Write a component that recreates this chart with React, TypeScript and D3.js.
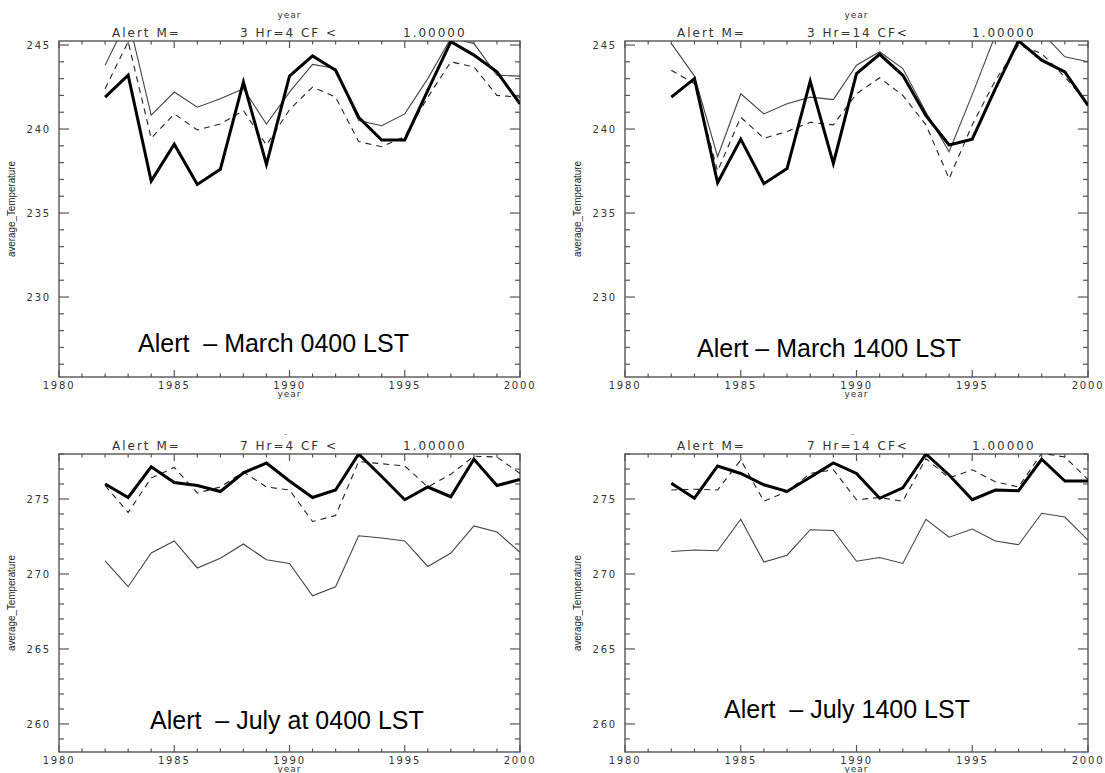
import React, { useRef, useEffect } from 'react';
import * as d3 from 'd3';

const years = d3.range(1982, 2001);

// March 0400 LST
const mar04Thick = [241.9, 243.2, 236.9, 239.1, 236.7, 237.6, 242.8, 237.9, 243.15, 244.35, 243.5, 240.7, 239.35, 239.35, 242.3, 245.2, 244.4, 243.4, 241.5];
const mar04Thin = [243.8, 246.6, 240.83, 242.2, 241.3, 241.8, 242.4, 240.3, 242.2, 243.85, 243.6, 240.5, 240.2, 240.9, 243.0, 245.4, 245.1, 243.2, 243.15];
const mar04Dash = [242.4, 245.2, 239.45, 240.9, 239.95, 240.3, 241.1, 239.05, 241.15, 242.5, 241.9, 239.25, 238.95, 239.55, 241.9, 244.0, 243.7, 242.0, 241.9];

// March 1400 LST
const mar14Thick = [241.9, 243.0, 236.8, 239.4, 236.75, 237.65, 242.85, 237.95, 243.3, 244.45, 243.2, 240.8, 239.05, 239.4, 242.4, 245.25, 244.1, 243.4, 241.4];
const mar14Thin = [245.1, 243.15, 238.35, 242.1, 240.9, 241.5, 241.9, 241.75, 243.8, 244.6, 243.6, 241.0, 238.65, 242.05, 245.6, 246.3, 245.75, 244.3, 244.0];
const mar14Dash = [243.5, 242.7, 237.5, 240.7, 239.45, 239.85, 240.4, 240.25, 242.1, 243.05, 242.0, 240.25, 237.05, 240.25, 242.9, 245.0, 244.5, 243.1, 241.5];

// July 0400 LST
const jul04Thick = [276.0, 275.1, 277.15, 276.1, 275.9, 275.5, 276.75, 277.4, 276.2, 275.1, 275.6, 278.0, 276.5, 274.95, 275.8, 275.15, 277.65, 275.9, 276.3];
const jul04Thin = [270.87, 269.15, 271.4, 272.2, 270.4, 271.05, 272.0, 270.95, 270.7, 268.55, 269.15, 272.55, 272.4, 272.2, 270.5, 271.4, 273.2, 272.8, 271.45];
const jul04Dash = [275.9, 274.1, 276.4, 277.1, 275.4, 275.8, 276.8, 275.8, 275.6, 273.5, 273.9, 277.5, 277.35, 277.2, 275.8, 276.65, 277.85, 277.8, 276.7];

// July 1400 LST
const jul14Thick = [276.05, 275.05, 277.2, 276.7, 275.95, 275.5, 276.45, 277.4, 276.7, 275.05, 275.75, 278.0, 276.6, 274.95, 275.6, 275.55, 277.65, 276.2, 276.2];
const jul14Thin = [271.5, 271.6, 271.55, 273.65, 270.8, 271.25, 272.95, 272.9, 270.85, 271.1, 270.7, 273.65, 272.45, 273.0, 272.2, 271.95, 274.05, 273.8, 272.25];
const jul14Dash = [275.6, 275.65, 275.6, 277.6, 274.85, 275.5, 276.7, 276.95, 274.95, 275.1, 274.85, 277.7, 276.4, 276.95, 276.15, 275.8, 278.05, 277.8, 276.3];

const titleLeft = ['Alert M=', '3 Hr=4 CF <', '1.00000'];
const titleRight = ['Alert M=', '3 Hr=14 CF<', '1.00000'];
const titleLeftJul = ['Alert M=', '7 Hr=4 CF <', '1.00000'];
const titleRightJul = ['Alert M=', '7 Hr=14 CF<', '1.00000'];
const captions = ['Alert  – March 0400 LST', 'Alert – March 1400 LST', 'Alert  – July at 0400 LST', 'Alert  – July 1400 LST'];

const marchTicks = [230, 235, 240, 245];
const julyTicks = [260, 265, 270, 275];
const yearTicks = [1980, 1985, 1990, 1995, 2000];

const panels = [
  { id: 'p1', x0: 59, x1: 520, y0: 41, y1: 377, dom: [225.24, 245.24], ticks: marchTicks, thick: mar04Thick, thin: mar04Thin, dash: mar04Dash, title: titleLeft, titleX: [112, 240, 403], titleY: 37, cap: captions[0], capX: 138, capY: 352, topYear: true },
  { id: 'p2', x0: 625, x1: 1088, y0: 41, y1: 377, dom: [225.24, 245.24], ticks: marchTicks, thick: mar14Thick, thin: mar14Thin, dash: mar14Dash, title: titleRight, titleX: [677, 807, 972], titleY: 37, cap: captions[1], capX: 697, capY: 357, topYear: true },
  { id: 'p3', x0: 59, x1: 520, y0: 454, y1: 752, dom: [258.13, 278.0], ticks: julyTicks, thick: jul04Thick, thin: jul04Thin, dash: jul04Dash, title: titleLeftJul, titleX: [112, 240, 403], titleY: 450, cap: captions[2], capX: 150, capY: 729, topYear: false },
  { id: 'p4', x0: 625, x1: 1088, y0: 454, y1: 752, dom: [258.13, 278.0], ticks: julyTicks, thick: jul14Thick, thin: jul14Thin, dash: jul14Dash, title: titleRightJul, titleX: [677, 807, 972], titleY: 450, cap: captions[3], capX: 724, capY: 718, topYear: false },
];

const App = () => {
  const svgRef = useRef(null);

  useEffect(() => {
    const svg = d3.select(svgRef.current);
    svg.selectAll('*').remove();
    const tickFont = 'DejaVu Sans, sans-serif';
    const axisColor = '#555';

    panels.forEach(p => {
      const x = d3.scaleLinear().domain([1980, 2000]).range([p.x0, p.x1]);
      const y = d3.scaleLinear().domain(p.dom).range([p.y1, p.y0]);
      const g = svg.append('g');

      g.append('clipPath').attr('id', 'clip-' + p.id)
        .append('rect')
        .attr('x', p.x0).attr('y', p.y0)
        .attr('width', p.x1 - p.x0).attr('height', p.y1 - p.y0);

      // frame
      g.append('rect')
        .attr('x', p.x0).attr('y', p.y0)
        .attr('width', p.x1 - p.x0).attr('height', p.y1 - p.y0)
        .attr('fill', 'none').attr('stroke', axisColor).attr('stroke-width', 1.4);

      // x ticks, inward on top and bottom
      d3.range(1980, 2001).forEach(yr => {
        const len = yr % 5 === 0 ? 7 : 3.5;
        const xx = x(yr);
        g.append('line').attr('x1', xx).attr('x2', xx).attr('y1', p.y1).attr('y2', p.y1 - len)
          .attr('stroke', axisColor).attr('stroke-width', 1.2);
        g.append('line').attr('x1', xx).attr('x2', xx).attr('y1', p.y0).attr('y2', p.y0 + len)
          .attr('stroke', axisColor).attr('stroke-width', 1.2);
      });

      // y ticks, inward on left and right
      d3.range(Math.ceil(p.dom[0]), Math.floor(p.dom[1]) + 1).forEach(v => {
        const len = v % 5 === 0 ? 10 : 5;
        const yy = y(v);
        g.append('line').attr('x1', p.x0).attr('x2', p.x0 + len).attr('y1', yy).attr('y2', yy)
          .attr('stroke', axisColor).attr('stroke-width', 1.2);
        g.append('line').attr('x1', p.x1).attr('x2', p.x1 - len).attr('y1', yy).attr('y2', yy)
          .attr('stroke', axisColor).attr('stroke-width', 1.2);
      });

      // tick labels
      yearTicks.forEach(yr => {
        g.append('text').attr('x', x(yr)).attr('y', p.y1 + 12)
          .attr('text-anchor', 'middle')
          .attr('font-family', tickFont).attr('font-size', 10)
          .attr('letter-spacing', 1.8).attr('fill', '#333')
          .text(yr);
      });
      p.ticks.forEach(v => {
        g.append('text').attr('x', p.x0 - 8).attr('y', y(v) + 4)
          .attr('text-anchor', 'end')
          .attr('font-family', tickFont).attr('font-size', 10)
          .attr('letter-spacing', 1.8).attr('fill', '#333')
          .text(v);
      });

      // axis titles
      const cx = (p.x0 + p.x1) / 2;
      g.append('text').attr('x', cx).attr('y', p.y1 + 20)
        .attr('text-anchor', 'middle')
        .attr('font-family', tickFont).attr('font-size', 9)
        .attr('letter-spacing', 1).attr('fill', '#333')
        .text('year');
      if (p.topYear) {
        g.append('text').attr('x', cx).attr('y', 18)
          .attr('text-anchor', 'middle')
          .attr('font-family', tickFont).attr('font-size', 9)
          .attr('letter-spacing', 1).attr('fill', '#333')
          .text('year');
      } else {
        g.append('text').attr('x', cx - 4).attr('y', 437)
          .attr('text-anchor', 'middle')
          .attr('font-family', tickFont).attr('font-size', 9)
          .attr('fill', '#777')
          .text('-');
      }
      const cy = (p.y0 + p.y1) / 2;
      g.append('text')
        .attr('transform', `translate(${p.x0 - 44},${cy}) rotate(-90)`)
        .attr('text-anchor', 'middle')
        .attr('font-family', 'Liberation Sans, Arial, sans-serif').attr('font-size', 10)
        .attr('textLength', 96).attr('lengthAdjust', 'spacingAndGlyphs')
        .attr('fill', '#222')
        .text('average_Temperature');

      // plot title
      p.title.forEach((t, i) => {
        g.append('text').attr('x', p.titleX[i]).attr('y', p.titleY)
          .attr('font-family', tickFont).attr('font-size', 12)
          .attr('letter-spacing', 2).attr('fill', '#333')
          .text(t);
      });

      // series
      const line = d3.line()
        .x((d, i) => x(years[i]))
        .y(d => y(d));
      const lines = g.append('g').attr('clip-path', `url(#clip-${p.id})`);
      lines.append('path').attr('d', line(p.thin))
        .attr('fill', 'none').attr('stroke', '#444').attr('stroke-width', 1.1);
      lines.append('path').attr('d', line(p.dash))
        .attr('fill', 'none').attr('stroke', '#222').attr('stroke-width', 1.1)
        .attr('stroke-dasharray', '6,5');
      lines.append('path').attr('d', line(p.thick))
        .attr('fill', 'none').attr('stroke', '#000').attr('stroke-width', 3);

      // caption
      g.append('text').attr('x', p.capX).attr('y', p.capY)
        .attr('font-family', 'Liberation Sans, Arial, sans-serif').attr('font-size', 25)
        .attr('fill', '#000')
        .style('white-space', 'pre')
        .text(p.cap);
    });
  }, []);

  return (
    <svg ref={svgRef} width={1105} height={773}
      style={{ position: 'absolute', left: 0, top: 0, background: '#fff' }} />
  );
};

export default App;
